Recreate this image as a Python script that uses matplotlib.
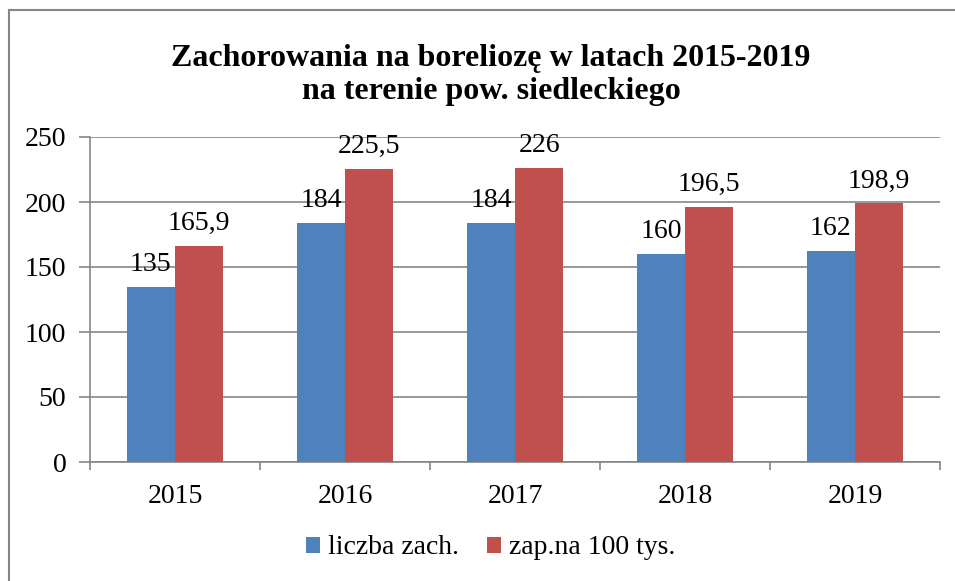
import matplotlib
matplotlib.use("Agg")
import matplotlib.pyplot as plt
import numpy as np
from matplotlib.lines import Line2D

years = ["2015", "2016", "2017", "2018", "2019"]
liczba_zach = [135, 184, 184, 160, 162]
zap_na_100_tys = [165.9, 225.5, 226, 196.5, 198.9]
series_names = ["liczba zach.", "zap.na 100 tys."]
title = "Zachorowania na boreliozę w latach 2015-2019\nna terenie pow. siedleckiego"

BLUE = "#4F81BD"
RED = "#C0504D"
GRID = "#868686"
FS = 20

plt.rcParams["font.family"] = ["Liberation Serif", "DejaVu Serif"]

fig = plt.figure(figsize=(9.55, 5.81), dpi=100)
ax = fig.add_axes([90 / 955, 1 - 462 / 581, 850 / 955, 325 / 581])

x = np.arange(len(years))
w = 0.284
b1 = ax.bar(x - w / 2, liczba_zach, w, color=BLUE, label=series_names[0], zorder=3)
b2 = ax.bar(x + w / 2, zap_na_100_tys, w, color=RED, label=series_names[1], zorder=3)

def fmt(v):
    return f"{v:g}".replace(".", ",")

for bars, vals in ((b1, liczba_zach), (b2, zap_na_100_tys)):
    for r, v in zip(bars, vals):
        ax.annotate(fmt(v), (r.get_x() + r.get_width() / 2, v),
                    xytext=(0, 11.5), textcoords="offset points",
                    ha="center", va="baseline", fontsize=FS, zorder=4)

ax.set_xlim(-0.5, len(years) - 0.5)
ax.set_ylim(0, 250)
ax.set_yticks(range(0, 251, 50))
ax.set_xticks(x)
ax.set_xticklabels(years)
ax.set_xticks(np.arange(-0.5, len(years)), minor=True)
ax.tick_params(axis="x", which="major", length=0, pad=16, labelsize=FS)
ax.tick_params(axis="x", which="minor", length=6, color=GRID, width=1.2)
ax.tick_params(axis="y", length=8, color=GRID, width=1.2, pad=9, labelsize=FS)
ax.grid(axis="y", color=GRID, linewidth=1.2, zorder=0)
for s in ("top", "right"):
    ax.spines[s].set_visible(False)
for s in ("left", "bottom"):
    ax.spines[s].set_color(GRID)
    ax.spines[s].set_linewidth(1.2)

fig.text(491 / 955, 1 - 75 / 581, title, ha="center", va="center",
         fontsize=23, fontweight="bold", linespacing=1.2)

fig.legend(loc="center", bbox_to_anchor=(491 / 955, 1 - 548 / 581), ncol=2,
           frameon=False, fontsize=FS, handlelength=0.5, handleheight=0.5,
           handletextpad=0.3, columnspacing=1.0)

# chart frame (left and top edges visible in the crop)
fig.add_artist(Line2D([9 / 955, 9 / 955], [0, 1 - 10 / 581], transform=fig.transFigure,
                      color=GRID, linewidth=1.5))
fig.add_artist(Line2D([9 / 955, 1], [1 - 10 / 581, 1 - 10 / 581], transform=fig.transFigure,
                      color=GRID, linewidth=1.5))

fig.savefig("out.png", dpi=100)
